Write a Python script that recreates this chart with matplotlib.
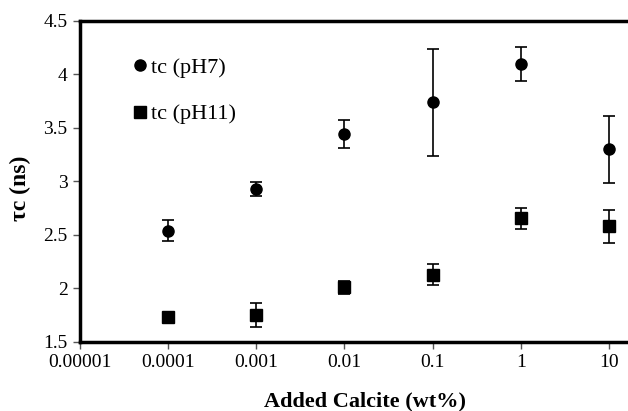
import numpy as np
import matplotlib.pyplot as plt

plt.rcParams['font.family'] = ['Liberation Serif', 'DejaVu Serif']

calcite = [0.0001, 0.001, 0.01, 0.1, 1, 10]
tc_ph7 = [2.54, 2.93, 3.445, 3.74, 4.10, 3.30]
err_ph7 = [0.10, 0.065, 0.13, 0.50, 0.16, 0.31]
tc_ph11 = [1.73, 1.75, 2.01, 2.13, 2.655, 2.58]
err_ph11 = [0.0, 0.11, 0.06, 0.095, 0.10, 0.155]

x_ticks = [1e-5, 1e-4, 1e-3, 1e-2, 1e-1, 1, 10]
x_labels = ['0.00001', '0.0001', '0.001', '0.01', '0.1', '1', '10']

fig = plt.figure(figsize=(6.28, 4.11), dpi=100)
ax = fig.add_axes([0.1274, 0.168, 0.9825, 0.781])

# error bars first, markers on top
ax.errorbar(calcite, tc_ph7, yerr=err_ph7, fmt='none', ecolor='black',
            capsize=4, elinewidth=1.2, capthick=1.2)
ax.errorbar(calcite, tc_ph11, yerr=err_ph11, fmt='none', ecolor='black',
            capsize=4, elinewidth=1.2, capthick=1.2)
ax.plot(calcite, tc_ph7, 'o', color='black', ms=8, label='tc (pH7)')
ax.plot(calcite, tc_ph11, 's', color='black', ms=8, label='tc (pH11)')

ax.set_xscale('log')
ax.set_xlim(1e-5, 100)
ax.set_ylim(1.5, 4.5)
ax.set_xticks(x_ticks)
ax.set_xticklabels(x_labels)
ax.minorticks_off()
ax.set_yticks(np.arange(1.5, 4.51, 0.5))
ax.set_yticklabels(['1.5', '2', '2.5', '3', '3.5', '4', '4.5'])
ax.tick_params(direction='out', length=5, labelsize=14, width=1, color='#555555', pad=4)

for s in ax.spines.values():
    s.set_linewidth(2.5)

ax.set_xlabel('Added Calcite (wt%)', fontsize=16, fontweight='bold', labelpad=12)
ax.xaxis.set_label_coords(0.462, -0.155)
ax.set_ylabel('τc (ns)', fontsize=17, fontweight='bold', labelpad=12)
ax.yaxis.set_label_coords(-0.08, 0.48)

leg = ax.legend(loc='upper left', bbox_to_anchor=(0.047, 0.948), frameon=False,
                fontsize=16, handletextpad=0.0, labelspacing=1.15, handlelength=1.0)

fig.savefig('out.png', dpi=100)
